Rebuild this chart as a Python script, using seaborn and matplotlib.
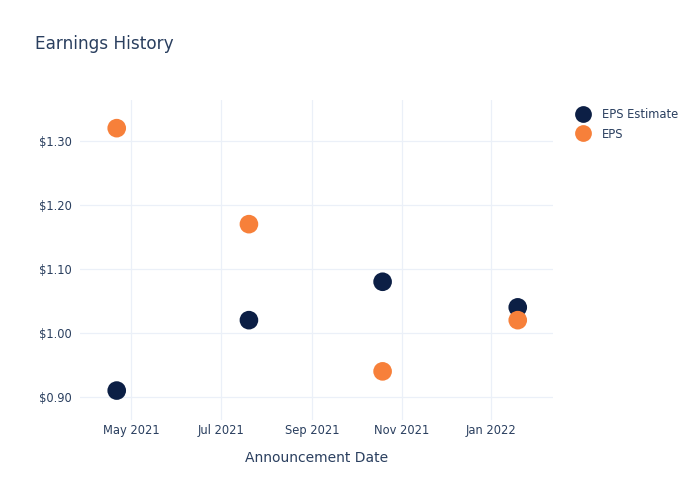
import matplotlib
matplotlib.use("Agg")
import matplotlib.pyplot as plt
import matplotlib.dates as mdates
from matplotlib.ticker import FuncFormatter
import seaborn as sns
import pandas as pd

dates = ["2021-04-21", "2021-07-20", "2021-10-19", "2022-01-19"]
eps_estimate = [0.91, 1.02, 1.08, 1.04]
eps_actual = [1.32, 1.17, 0.94, 1.02]
series_names = ["EPS Estimate", "EPS"]
colors = ["#0c1f45", "#f7803a"]

df = pd.DataFrame({
    "date": pd.to_datetime(dates * 2),
    "value": eps_estimate + eps_actual,
    "series": [series_names[0]] * len(dates) + [series_names[1]] * len(dates),
})

sns.set_theme(style="white")
plt.rcParams['font.family'] = ['DejaVu Sans']
text_color = "#2a3f5f"

fig = plt.figure(figsize=(7, 5), dpi=100)
ax = fig.add_axes([80/700, 80/500, (553-80)/700, (420-100)/500])

sns.scatterplot(data=df, x="date", y="value", hue="series", hue_order=series_names,
                palette=colors, s=180, edgecolor="none", ax=ax, zorder=3)

ax.set_xlim(pd.Timestamp("2021-03-27"), pd.Timestamp("2022-02-12"))
ax.set_ylim(0.864, 1.364)
ax.set_yticks([0.90, 1.00, 1.10, 1.20, 1.30])
ax.yaxis.set_major_formatter(FuncFormatter(lambda v, p: f"${v:.2f}"))
ax.xaxis.set_major_locator(mdates.MonthLocator(bymonth=[1, 3, 5, 7, 9, 11]))
ax.xaxis.set_major_formatter(mdates.DateFormatter("%b %Y"))

ax.grid(True, color="#ebf0f8", linewidth=0.9)
ax.set_axisbelow(True)
for s in ax.spines.values():
    s.set_visible(False)
ax.tick_params(axis="both", length=0, labelsize=8.3, colors=text_color)
ax.tick_params(axis="x", pad=3)
ax.tick_params(axis="y", pad=6)
for lbl in ax.get_xticklabels() + ax.get_yticklabels():
    lbl.set_color(text_color)

ax.set_xlabel("Announcement Date", fontsize=10, color=text_color, labelpad=10)
ax.set_ylabel("")

leg = ax.legend(loc="upper left", bbox_to_anchor=(567/700, 397/500), bbox_transform=fig.transFigure,
                frameon=False, fontsize=8.3, handletextpad=0.6, labelspacing=0.6,
                markerscale=0.9, borderaxespad=0)
for t in leg.get_texts():
    t.set_color(text_color)

fig.text(35/700, 1 - 44/500, "Earnings History", fontsize=12.2, color=text_color, va="center", ha="left")

fig.savefig("out.png", dpi=100, facecolor="white")
